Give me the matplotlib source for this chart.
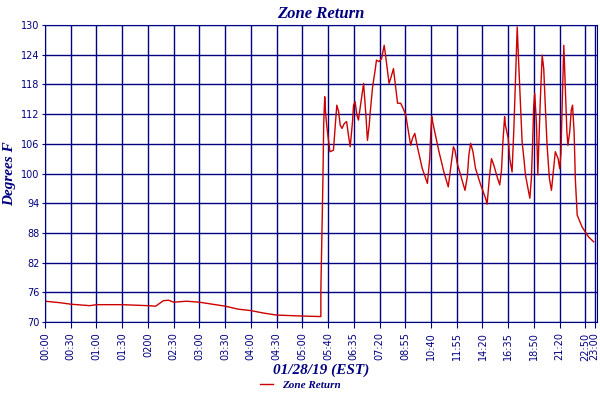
import matplotlib
matplotlib.use("Agg")
import matplotlib.pyplot as plt

tick_pos = [0,10,20,30,40,50,60,70,80,90,100,110,120,130,140,150,160,170,180,190,200,210,213.6]
tick_labels = ["00:00","00:30","01:00","01:30","0200","02:30","03:00","03:30","04:00","04:30","05:00",
               "05:40","06:35","07:20","08:55","10:40","11:55","14:20","16:35","18:50","21:20","22:50","23:00"]
y_ticks = [70,76,82,88,94,100,106,112,118,124,130]

x_idx = [0,5.8,10,17.4,20,30,40,43,46,48,50,55,60,65,70,75,80,85,90,95,100,107.2,
 107.2,107.6,108.0,108.3,108.7,109.0,109.4,109.9,110.5,110.7,112.1,112.8,113.4,114.1,114.7,115.4,116.3,117.2,117.9,
 118.6,119.5,119.9,120.5,121.2,121.8,122.7,123.8,124.7,125.3,126.0,126.4,127.3,128.3,128.8,129.8,130.8,131.8,132.4,
 133.1,133.7,134.5,135.4,136.3,137.0,138.2,139.2,140.2,140.8,142.1,142.8,143.7,144.7,146.6,148.6,149.5,149.9,150.3,
 150.6,151.6,153.1,155.0,156.7,157.6,158.7,159.3,160.2,161.5,163.2,164.1,164.7,165.4,166.3,167.3,169.3,171.2,171.8,
 172.7,173.5,174.4,175.7,176.7,177.4,177.9,178.6,178.9,180.0,180.6,181.5,182.2,182.8,183.2,183.5,184.1,184.8,185.4,
 186.1,186.7,187.7,188.4,189.0,189.5,189.9,190.3,191.0,191.5,191.9,192.5,193.2,193.8,194.4,195.1,196.0,196.8,197.4,
 198.3,199.4,200.0,200.5,200.9,201.6,202.2,202.8,203.2,203.9,204.5,205.0,205.6,206.1,206.8,208.7,211.2,213.2]
zone_return = [74.2,73.9,73.6,73.3,73.5,73.5,73.3,73.2,74.3,74.4,74.0,74.2,74.0,73.6,73.2,72.6,72.3,71.8,71.4,71.3,71.2,71.1,
 76.4,87.6,99.0,110.1,115.5,112.5,110.1,107.8,105.4,104.4,104.7,109.8,113.8,112.5,109.8,109.1,110.1,110.5,107.8,
 105.4,110.5,113.8,114.5,111.8,110.8,114.2,118.2,111.8,106.7,109.8,112.5,117.5,120.9,122.9,122.6,123.2,125.9,123.6,
 120.6,118.2,119.5,121.2,117.2,114.2,114.2,113.1,111.8,109.8,105.7,107.1,108.1,105.4,101.0,98.0,103.0,108.1,111.5,
 110.5,108.1,104.4,100.3,97.3,101.0,105.4,104.7,102.0,99.7,96.6,99.3,103.7,106.1,104.4,101.0,97.7,95.0,93.8,
 99.3,103.0,101.7,99.3,97.7,100.7,106.1,111.5,109.8,107.1,103.0,100.3,109.1,118.5,124.6,129.6,121.9,113.8,106.4,
 103.0,99.7,97.0,95.0,99.0,106.4,113.5,116.2,109.8,99.7,105.7,115.2,123.9,121.2,113.8,105.7,99.0,96.6,99.7,
 104.4,103.0,101.0,104.1,112.5,125.9,117.2,108.4,105.7,108.4,112.8,113.8,108.4,98.7,91.6,89.2,87.2,86.2]

navy = "#000080"
fig = plt.figure(figsize=(6, 4), dpi=100)
ax = fig.add_axes([0.075, 0.195, 0.92, 0.7425])
ax.plot(x_idx, zone_return, color="#cc0000", lw=1.0, label="Zone Return")
ax.set_xlim(0, 214.5)
ax.set_ylim(70, 130)
ax.set_xticks(tick_pos)
ax.set_xticklabels(tick_labels, rotation=90, fontsize=7, color=navy)
ax.set_yticks(y_ticks)
ax.set_yticklabels([str(v) for v in y_ticks], fontsize=7, color=navy)
ax.grid(True, color=navy, lw=1)
ax.tick_params(axis="x", colors=navy, length=4)
ax.tick_params(axis="y", colors=navy, length=2, pad=2)
for s in ax.spines.values():
    s.set_color(navy)
serif = dict(family="Liberation Serif", weight="bold", style="italic", color=navy)
ax.set_title("Zone Return", fontsize=12, pad=5, **serif)
ax.set_ylabel("Degrees F", fontsize=11, **serif)
ax.yaxis.set_label_coords(-0.052, 0.5)
ax.set_xlabel("01/28/19 (EST)", fontsize=11, labelpad=2, **serif)
leg = fig.legend(loc="lower center", bbox_to_anchor=(0.5, 0.0), frameon=False,
                 prop=dict(family="Liberation Serif", weight="bold", style="italic", size=8), handlelength=1.2)
for t in leg.get_texts():
    t.set_color(navy)
fig.savefig("out.png")
